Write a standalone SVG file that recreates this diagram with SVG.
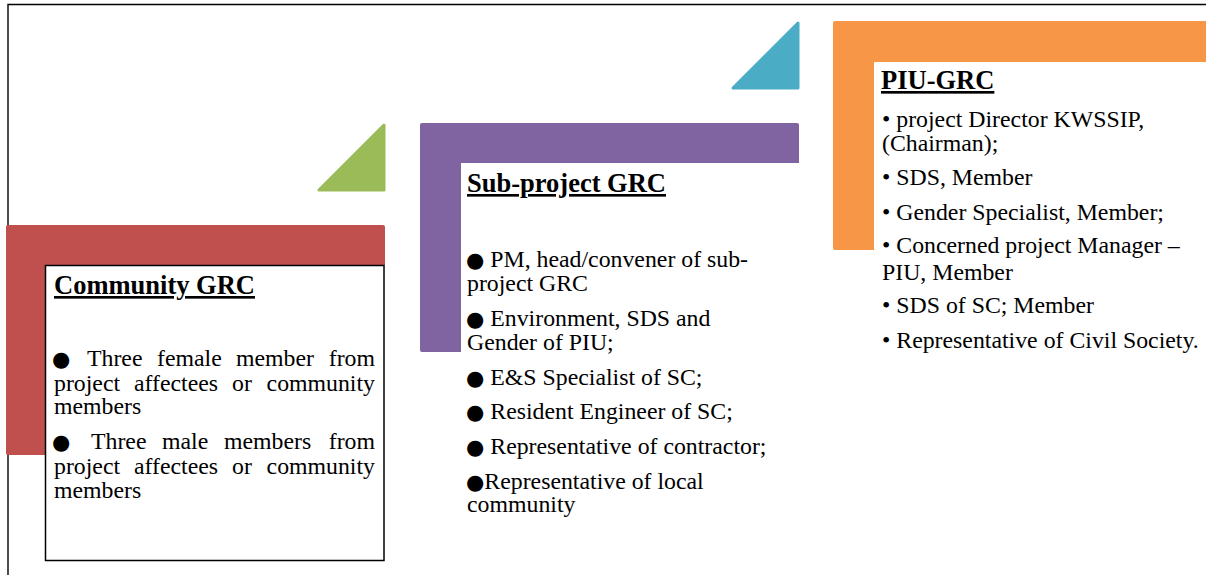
<svg xmlns="http://www.w3.org/2000/svg" width="1206" height="575" viewBox="0 0 1206 575">
<style>
.t{font-family:"Liberation Serif","Times New Roman",serif;font-size:23.8px;fill:#000}
.b{font-family:"DejaVu Sans",sans-serif;font-size:21px}
.h{font-family:"Liberation Serif","Times New Roman",serif;font-size:26.5px;font-weight:bold;text-decoration:underline;fill:#000}
.frame{fill:none;stroke:#000;stroke-width:1.4}
.box{fill:#fff;stroke:#000;stroke-width:1.5}
</style>
<rect width="1206" height="575" fill="#fff"/>
<path class="frame" d="M8 575 V4.5 H1206"/>
<g id="connectors">
<path d="M319 190 L384 125 L384 190 Z" fill="#9bbb59" stroke="#9bbb59" stroke-width="3" stroke-linejoin="round"/>
<path d="M733 88 L798 23 L798 88 Z" fill="#4bacc6" stroke="#4bacc6" stroke-width="3" stroke-linejoin="round"/>
</g>
<g id="community-grc">
<path d="M8 225 H383 Q385 225 385 227 V265 H47 V455 H8 Q6 455 6 453 V227 Q6 225 8 225 Z" fill="#c0504d"/>
<rect class="box" x="45.5" y="265.5" width="338.5" height="295"/>
<text class="h" x="54" y="294">Community GRC</text>
<text class="t" y="366"><tspan class="b" x="52">●</tspan><tspan x="87">Three</tspan><tspan x="157">female</tspan><tspan x="236">member</tspan><tspan x="375" text-anchor="end">from</tspan></text>
<text class="t" y="391"><tspan x="54">project</tspan><tspan x="134">affectees</tspan><tspan x="232">or</tspan><tspan x="375" text-anchor="end">community</tspan></text>
<text class="t" x="54" y="414">members</text>
<text class="t" y="449"><tspan class="b" x="52">●</tspan><tspan x="91">Three</tspan><tspan x="162">male</tspan><tspan x="224">members</tspan><tspan x="375" text-anchor="end">from</tspan></text>
<text class="t" y="474"><tspan x="54">project</tspan><tspan x="134">affectees</tspan><tspan x="232">or</tspan><tspan x="375" text-anchor="end">community</tspan></text>
<text class="t" x="54" y="498">members</text>
</g>
<g id="subproject-grc">
<path d="M422 123 H797 Q799 123 799 125 V163 H461 V352 H422 Q420 352 420 350 V125 Q420 123 422 123 Z" fill="#8064a2"/>
<text class="h" x="467" y="192">Sub-project GRC</text>
<text class="t" x="466" y="267"><tspan class="b">●</tspan> PM, head/convener of sub-</text>
<text class="t" x="467" y="291">project GRC</text>
<text class="t" x="466" y="326"><tspan class="b">●</tspan> Environment, SDS and</text>
<text class="t" x="467" y="350">Gender of PIU;</text>
<text class="t" x="466" y="385"><tspan class="b">●</tspan> E&amp;S Specialist of SC;</text>
<text class="t" x="466" y="419"><tspan class="b">●</tspan> Resident Engineer of SC;</text>
<text class="t" x="466" y="454"><tspan class="b">●</tspan> Representative of contractor;</text>
<text class="t" x="466" y="489"><tspan class="b">●</tspan>Representative of local</text>
<text class="t" x="467" y="512">community</text>
</g>
<g id="piu-grc">
<path d="M835 21 H1206 V62 H874 V250 H835 Q833 250 833 248 V23 Q833 21 835 21 Z" fill="#f79646"/>
<text class="h" x="881" y="89">PIU-GRC</text>
<text class="t" x="882" y="127">• project Director KWSSIP,</text>
<text class="t" x="882" y="151">(Chairman);</text>
<text class="t" x="882" y="185">• SDS, Member</text>
<text class="t" x="882" y="220">• Gender Specialist, Member;</text>
<text class="t" x="882" y="253">• Concerned project Manager –</text>
<text class="t" x="882" y="280">PIU, Member</text>
<text class="t" x="882" y="313">• SDS of SC; Member</text>
<text class="t" x="882" y="348">• Representative of Civil Society.</text>
</g>
</svg>
